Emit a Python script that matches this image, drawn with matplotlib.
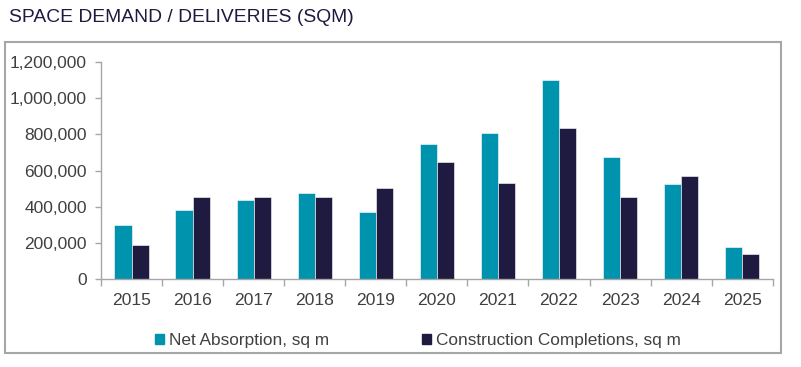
import numpy as np
import matplotlib.pyplot as plt
from matplotlib.patches import Rectangle, Patch
from matplotlib.ticker import FuncFormatter

years = ["2015", "2016", "2017", "2018", "2019", "2020", "2021", "2022", "2023", "2024", "2025"]
net_absorption = [300000, 380000, 435000, 475000, 372000, 745000, 808000, 1100000, 672000, 525000, 178000]
completions = [190000, 455000, 455000, 455000, 505000, 648000, 530000, 832000, 455000, 570000, 140000]

teal = "#0093AE"
navy = "#1E1A40"
txt = "#404040"
grey = "#A6A6A6"

plt.rcParams["font.family"] = ["Liberation Sans", "DejaVu Sans"]

fig = plt.figure(figsize=(8.01, 3.67), dpi=100)
ax = fig.add_axes([101 / 801, 1 - 279.3 / 367, 671.7 / 801, 217.6 / 367])

x = np.arange(len(years))
w = 0.28
ax.bar(x - w / 2, net_absorption, w, color=teal, edgecolor="white", linewidth=0.4)
ax.bar(x + w / 2, completions, w, color=navy, edgecolor="white", linewidth=0.4)

ax.set_xlim(-0.5, len(years) - 0.5)
ax.set_ylim(0, 1200000)
ax.set_yticks(range(0, 1200001, 200000))
ax.yaxis.set_major_formatter(FuncFormatter(lambda v, p: f"{int(v):,}"))
ax.tick_params(axis="y", length=4, width=1, color=grey, pad=6, labelsize=12.5, labelcolor=txt)

# boundary ticks between categories, labels at the centres
ax.set_xticks(np.arange(-0.5, len(years), 1))
ax.set_xticklabels([])
ax.set_xticks(x, minor=True)
ax.set_xticklabels(years, minor=True, fontsize=12.6, color=txt)
ax.tick_params(axis="x", which="major", length=5, width=1, color=grey)
ax.tick_params(axis="x", which="minor", length=0, pad=10)

for s in ["top", "right"]:
    ax.spines[s].set_visible(False)
for s in ["left", "bottom"]:
    ax.spines[s].set_color(grey)
    ax.spines[s].set_linewidth(1)

# outer chart frame
fig.patches.append(Rectangle((5 / 801, 1 - 353 / 367), 776 / 801, 311 / 367,
                             transform=fig.transFigure, fill=False,
                             edgecolor=grey, linewidth=1.5))

fig.text(9 / 801, 1 - 17 / 367, "SPACE DEMAND / DELIVERIES (SQM)", fontsize=13.9,
         color=navy, va="center", ha="left")

handles = [Patch(color=teal), Patch(color=navy)]
leg = fig.legend(handles, ["Net Absorption, sq m", "Construction Completions, sq m"],
                 loc="center", bbox_to_anchor=(418 / 801, 1 - 340.5 / 367), ncol=2,
                 frameon=False, handlelength=0.5, handleheight=0.5, handletextpad=0.3,
                 columnspacing=5.4, prop={"size": 12.4})
for t in leg.get_texts():
    t.set_color(txt)

fig.savefig("out.png", dpi=100)
